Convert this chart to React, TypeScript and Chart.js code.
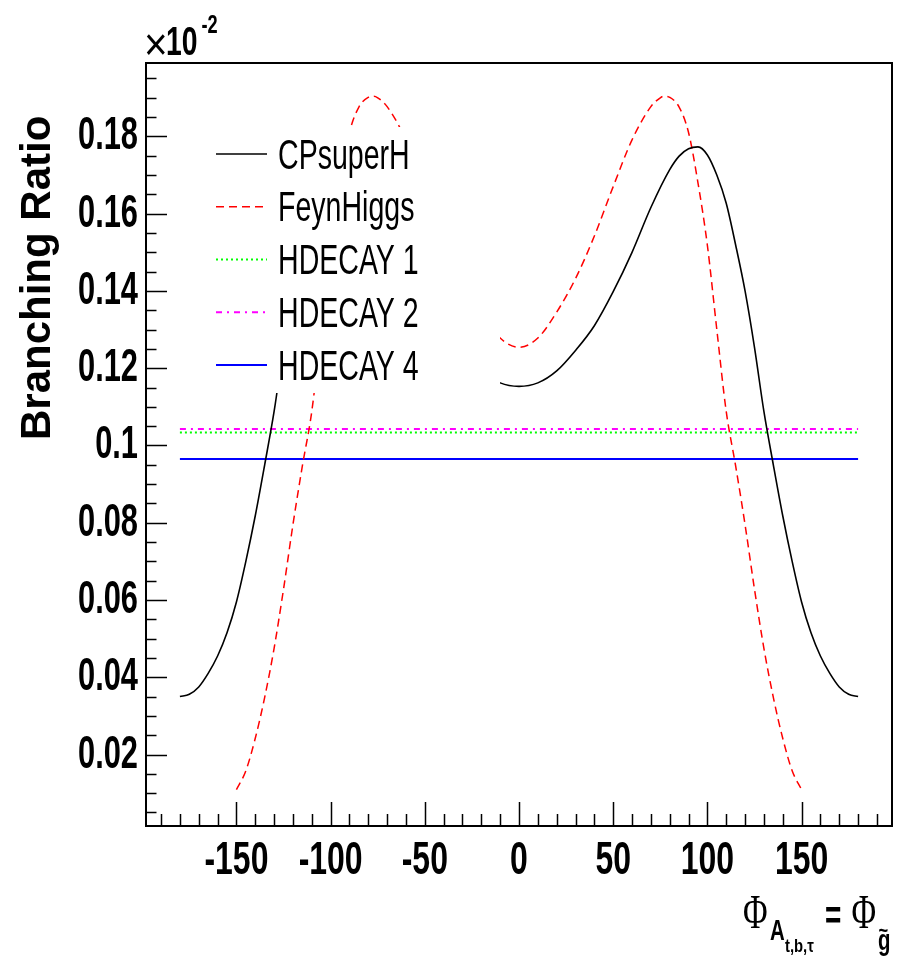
import React, { useEffect, useRef } from "react";
import { Chart, registerables } from "chart.js";

Chart.register(...registerables);

// ---- data ----
const seriesNames = ["CPsuperH", "FeynHiggs", "HDECAY 1", "HDECAY 2", "HDECAY 4"];

const phiCP = [
  -180, -175, -170, -165, -160, -155, -150, -145, -140, -135, -130, -125, -120, -115, -110, -105, -100, -95, -90, -85, -80,
  -70, -60, -50, -40, -30, -20, -10, 0, 10, 20, 30, 40, 50, 60, 70,
  80, 85, 90, 95, 100, 105, 110, 115, 120, 125, 130, 135, 140, 145, 150, 155, 160, 165, 170, 175, 180,
];
const brCP = [
  0.035, 0.0356, 0.0375, 0.041, 0.0455, 0.0515, 0.0595, 0.07, 0.0818, 0.095, 0.1088, 0.1254, 0.14, 0.1519, 0.1627, 0.17, 0.1752, 0.1773, 0.1768, 0.1749, 0.1714,
  0.1616, 0.15, 0.1398, 0.131, 0.1246, 0.1193, 0.1162, 0.1153, 0.1162, 0.1193, 0.1246, 0.131, 0.1398, 0.15, 0.1616,
  0.1714, 0.1749, 0.1768, 0.1773, 0.1752, 0.17, 0.1627, 0.1519, 0.14, 0.1254, 0.1088, 0.095, 0.0818, 0.07, 0.0595, 0.0515, 0.0455, 0.041, 0.0375, 0.0356, 0.035,
];

const phiFH = [
  -150, -145, -140, -135, -130, -125, -120, -115, -110, -105, -100, -95, -90, -85, -80, -77, -75, -70, -60, -50, -40, -30, -20, -10,
  0, 10, 20, 30, 40, 50, 60, 70, 75, 77, 80, 85, 90, 95, 100, 105, 110, 115, 120, 125, 130, 135, 140, 145, 150,
];
const brFH = [
  0.0109, 0.0158, 0.0242, 0.0348, 0.0475, 0.0628, 0.0795, 0.0947, 0.1088, 0.13, 0.1518, 0.168, 0.181, 0.1876, 0.1901, 0.1904, 0.19, 0.1877, 0.1791, 0.167, 0.1542, 0.1432, 0.1345, 0.1278,
  0.1254, 0.1278, 0.1345, 0.1432, 0.1542, 0.167, 0.1791, 0.1877, 0.19, 0.1904, 0.1901, 0.1876, 0.181, 0.168, 0.1518, 0.13, 0.1088, 0.0947, 0.0795, 0.0628, 0.0475, 0.0348, 0.0242, 0.0158, 0.0109,
];

const phiHD = [-180, 180];
const brHD1 = [0.10337, 0.10337];
const brHD2 = [0.10425, 0.10425];
const brHD4 = [0.09648, 0.09648];

const xTickValues = [-150, -100, -50, 0, 50, 100, 150];
const xTickLabels = ["-150", "-100", "-50", "0", "50", "100", "150"];
const yTickValues = [0.02, 0.04, 0.06, 0.08, 0.1, 0.12, 0.14, 0.16, 0.18];
const yTickLabels = ["0.02", "0.04", "0.06", "0.08", "0.1", "0.12", "0.14", "0.16", "0.18"];

const X_MIN = -198;
const X_MAX = 198;
const Y_MIN = 0.0015;
const Y_MAX = 0.199;

// ---- helpers ----
const toPoints = (xs: number[], ys: number[]) => xs.map((x, i) => ({ x, y: ys[i] }));

const SANS = '"Liberation Sans", Arial, Helvetica, sans-serif';
const SERIF = '"Liberation Serif", "Times New Roman", serif';

function drawText(
  ctx: CanvasRenderingContext2D,
  text: string,
  x: number,
  y: number,
  font: string,
  sx = 0.7,
  align: CanvasTextAlign = "left"
) {
  ctx.save();
  ctx.translate(x, y);
  ctx.scale(sx, 1);
  ctx.font = font;
  ctx.fillStyle = "#000";
  ctx.textAlign = align;
  ctx.textBaseline = "alphabetic";
  ctx.fillText(text, 0, 0);
  ctx.restore();
}

const rootDecor = {
  id: "rootDecor",
  afterDatasetsDraw(chart: any) {
    const ctx: CanvasRenderingContext2D = chart.ctx;
    ctx.save();
    // opaque legend box (hides the curves beneath it, as in the reference)
    ctx.fillStyle = "#ffffff";
    ctx.fillRect(196, 127, 304, 266);
    chart.data.datasets.forEach((ds: any, i: number) => {
      const y = 154 + i * 52.75;
      ctx.save();
      ctx.strokeStyle = ds.borderColor;
      ctx.lineWidth = ds.borderWidth;
      ctx.setLineDash(ds.borderDash || []);
      ctx.beginPath();
      ctx.moveTo(216, y);
      ctx.lineTo(267, y);
      ctx.stroke();
      ctx.restore();
      drawText(ctx, ds.label, 278, y + 14.5, `42px ${SANS}`, 0.68);
    });
    ctx.restore();
  },
  afterDraw(chart: any) {
    const ctx: CanvasRenderingContext2D = chart.ctx;
    const { left, right, top, bottom } = chart.chartArea;
    const xs = chart.scales.x;
    const ys = chart.scales.y;
    ctx.save();
    // frame top / right
    ctx.strokeStyle = "#000";
    ctx.lineWidth = 2;
    ctx.beginPath();
    ctx.moveTo(left, top);
    ctx.lineTo(right, top);
    ctx.lineTo(right, bottom);
    ctx.stroke();
    // inner ticks
    ctx.lineWidth = 1.5;
    ctx.beginPath();
    for (let k = -19; k <= 19; k++) {
      const v = k * 10;
      const px = Math.round(xs.getPixelForValue(v)) + 0.5;
      const len = v % 50 === 0 ? 24 : 12;
      ctx.moveTo(px, bottom);
      ctx.lineTo(px, bottom - len);
    }
    for (let k = 1; k <= 39; k++) {
      const v = k * 0.005;
      const py = Math.round(ys.getPixelForValue(v)) + 0.5;
      const len = k % 4 === 0 ? 21 : 10.5;
      ctx.moveTo(left, py);
      ctx.lineTo(left + len, py);
    }
    ctx.stroke();

    // tick labels (condensed bold, positioned by the chart's scales)
    xTickValues.forEach((v, i) => {
      drawText(ctx, xTickLabels[i], xs.getPixelForValue(v), 874, `bold 47px ${SANS}`, 0.68, "center");
    });
    yTickValues.forEach((v, i) => {
      drawText(ctx, yTickLabels[i], 138, ys.getPixelForValue(v) + 13, `bold 46px ${SANS}`, 0.67, "right");
    });

    // y title
    ctx.save();
    ctx.translate(50, 440);
    ctx.rotate(-Math.PI / 2);
    ctx.font = `bold 42px ${SANS}`;
    ctx.fillStyle = "#000";
    ctx.textAlign = "left";
    ctx.textBaseline = "alphabetic";
    ctx.fillText("Branching Ratio", 0, 0);
    ctx.restore();

    // exponent label  x10^-2
    drawText(ctx, "\u00d7", 144, 60, `46px ${SANS}`, 0.88);
    drawText(ctx, "10", 166, 55, `bold 41px ${SANS}`, 0.69);
    drawText(ctx, "-2", 201.5, 33, `bold 26px ${SANS}`, 0.7);

    // x title
    drawText(ctx, "\u03a6", 743, 928, `48px ${SERIF}`, 0.7);
    drawText(ctx, "A", 770, 940, `bold 30px ${SANS}`, 0.68);
    drawText(ctx, "t,b,\u03c4", 785, 952, `bold 19px ${SANS}`, 0.78);
    drawText(ctx, "=", 825, 929, `bold 40px ${SANS}`, 0.7);
    drawText(ctx, "\u03a6", 851.5, 928, `48px ${SERIF}`, 0.7);
    drawText(ctx, "g", 878, 950, `bold 30px ${SANS}`, 0.68);
    drawText(ctx, "~", 878.5, 938, `bold 22px ${SANS}`, 0.75);
    ctx.restore();
  },
};

export default function App() {
  const ref = useRef<HTMLCanvasElement | null>(null);

  useEffect(() => {
    if (!ref.current) return;
    const chart = new Chart(ref.current, {
      type: "line",
      data: {
        datasets: [
          {
            label: seriesNames[0],
            data: toPoints(phiCP, brCP),
            borderColor: "#000000",
            borderWidth: 1.6,
            pointRadius: 0,
            fill: false,
            cubicInterpolationMode: "monotone",
          },
          {
            label: seriesNames[1],
            data: toPoints(phiFH, brFH),
            borderColor: "#ff0000",
            borderWidth: 1.5,
            borderDash: [8, 5],
            pointRadius: 0,
            fill: false,
            cubicInterpolationMode: "monotone",
          },
          {
            label: seriesNames[2],
            data: toPoints(phiHD, brHD1),
            borderColor: "#00ff00",
            borderWidth: 2,
            borderDash: [2, 3],
            pointRadius: 0,
            fill: false,
          },
          {
            label: seriesNames[3],
            data: toPoints(phiHD, brHD2),
            borderColor: "#ff00ff",
            borderWidth: 2,
            borderDash: [6, 5, 2, 5],
            pointRadius: 0,
            fill: false,
          },
          {
            label: seriesNames[4],
            data: toPoints(phiHD, brHD4),
            borderColor: "#0000ff",
            borderWidth: 2,
            pointRadius: 0,
            fill: false,
          },
        ],
      },
      options: {
        animation: false,
        responsive: false,
        devicePixelRatio: 1,
        layout: { padding: { top: 63, right: 14, left: 0, bottom: 0 } },
        plugins: { legend: { display: false }, tooltip: { enabled: false } },
        scales: {
          x: {
            type: "linear",
            min: X_MIN,
            max: X_MAX,
            afterFit: (s: any) => {
              s.height = 134;
            },
            afterBuildTicks: (s: any) => {
              s.ticks = xTickValues.map((v) => ({ value: v }));
            },
            grid: { display: false },
            border: { display: true, color: "#000", width: 2 },
            ticks: { display: false },
          },
          y: {
            type: "linear",
            min: Y_MIN,
            max: Y_MAX,
            afterFit: (s: any) => {
              s.width = 146;
            },
            afterBuildTicks: (s: any) => {
              s.ticks = yTickValues.map((v) => ({ value: v }));
            },
            grid: { display: false },
            border: { display: true, color: "#000", width: 2 },
            ticks: { display: false },
          },
        },
      },
      plugins: [rootDecor],
    } as any);
    return () => chart.destroy();
  }, []);

  return (
    <div style={{ position: "fixed", left: 0, top: 0, width: 906, height: 960, background: "#fff" }}>
      <canvas ref={ref} width={906} height={960} style={{ display: "block" }} />
    </div>
  );
}
